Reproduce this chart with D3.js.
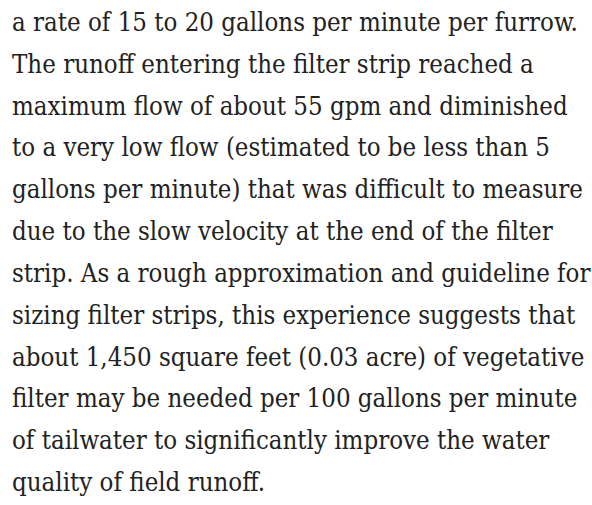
<!DOCTYPE html>
<html><head><meta charset="utf-8">
<script src="https://cdn.jsdelivr.net/npm/d3@7"></script>
<style>html,body{margin:0;padding:0;background:#fff;}</style>
</head><body>
<script>
const lines = [
  "a rate of 15 to 20 gallons per minute per furrow.",
  "The runoff entering the filter strip reached a",
  "maximum flow of about 55 gpm and diminished",
  "to a very low flow (estimated to be less than 5",
  "gallons per minute) that was difficult to measure",
  "due to the slow velocity at the end of the filter",
  "strip. As a rough approximation and guideline for",
  "sizing filter strips, this experience suggests that",
  "about 1,450 square feet (0.03 acre) of vegetative",
  "filter may be needed per 100 gallons per minute",
  "of tailwater to significantly improve the water",
  "quality of field runoff."
];
const W = 592, H = 505;
const svg = d3.select("body").append("svg").attr("width", W).attr("height", H);
const fam = "'DejaVu Serif Condensed', 'DejaVu Serif', serif";
// fit font size so that the first line spans the measured width of the reference
const probe = svg.append("text").attr("font-family", fam).attr("font-stretch", "condensed")
  .attr("font-size", 100).text(lines[0]);
const fs = 100 * 566 / probe.node().getComputedTextLength();
probe.remove();
const y = d3.scaleLinear().domain([0, lines.length - 1]).range([31, 491]);
svg.selectAll("text").data(lines).join("text")
  .attr("x", 12)
  .attr("y", (d, i) => y(i))
  .attr("font-family", fam)
  .attr("font-stretch", "condensed")
  .attr("font-size", fs)
  .attr("fill", "#222")
  .text(d => d);
</script>
</body></html>
